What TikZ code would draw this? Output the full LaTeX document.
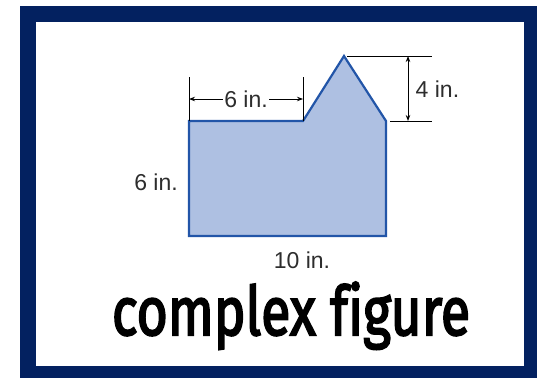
\documentclass[tikz,border=0pt]{standalone}
\usepackage{fontspec}
\setmainfont{Liberation Sans}
\newfontfamily\titlefont{Fira Sans}[Ligatures=NoCommon, FakeBold=3]
\usetikzlibrary{arrows.meta}
\definecolor{navy}{RGB}{3,33,96}
\definecolor{shapefill}{RGB}{174,192,226}
\definecolor{shapeline}{RGB}{34,85,168}
\definecolor{dimtext}{RGB}{45,45,45}
\tikzset{
  dimline/.style={draw=black, line width=0.9pt},
  dimarrow/.style={dimline, {Stealth[length=6pt,width=4.5pt]}-{Stealth[length=6pt,width=4.5pt]}},
  dimlabel/.style={font=\fontsize{23}{23}\selectfont, text=dimtext, inner sep=1.5pt},
  figshape/.style={fill=shapefill, draw=shapeline, line width=2.2pt, line join=miter}
}
\begin{document}
\begin{tikzpicture}[x=1pt,y=-1pt]
\useasboundingbox (0,0) rectangle (537,378);
% frame
\fill[navy] (20,6) rectangle (537,378);
\fill[white] (36,22) rectangle (524,366);
% shape
\coordinate (bl) at (189,236);
\coordinate (tl) at (189,121);
\coordinate (notch) at (303,121);
\coordinate (peak) at (344,56);
\coordinate (shoulder) at (386,121);
\coordinate (br) at (386,236);
\path[figshape] (bl) -- (tl) -- (notch) -- (peak) -- (shoulder) -- (br) -- cycle;
% top dimension 6 in.
\coordinate (e1a) at (189,77);
\coordinate (e2a) at (303,77);
\draw[dimline] (e1a) -- (tl);
\draw[dimline] (e2a) -- (notch);
\node[dimlabel] (six) at (246,99) {6 in.};
\coordinate (a1) at (189,99);
\coordinate (a2) at (303,99);
\draw[dimline, -{Stealth[length=6pt,width=4.5pt]}] (six.west) -- (a1);
\draw[dimline, -{Stealth[length=6pt,width=4.5pt]}] (six.east) -- (a2);
% right dimension 4 in.
\coordinate (h1a) at (347,56);
\coordinate (h1b) at (432,56);
\coordinate (h2a) at (390,121);
\coordinate (h2b) at (432,121);
\draw[dimline] (h1a) -- (h1b);
\draw[dimline] (h2a) -- (h2b);
\coordinate (v1) at (408,56);
\coordinate (v2) at (408,121);
\draw[dimarrow] (v1) -- (v2);
\node[dimlabel, anchor=west] (four) at (414,89) {4 in.};
% other labels
\node[dimlabel] (left) at (156,182) {6 in.};
\node[dimlabel] (bottom) at (302,260) {10 in.};
% title
\node[anchor=base, inner sep=0pt] (title) at (291,335)
  {\resizebox{358pt}{53pt}{\titlefont complex figure}};
\end{tikzpicture}
\end{document}
